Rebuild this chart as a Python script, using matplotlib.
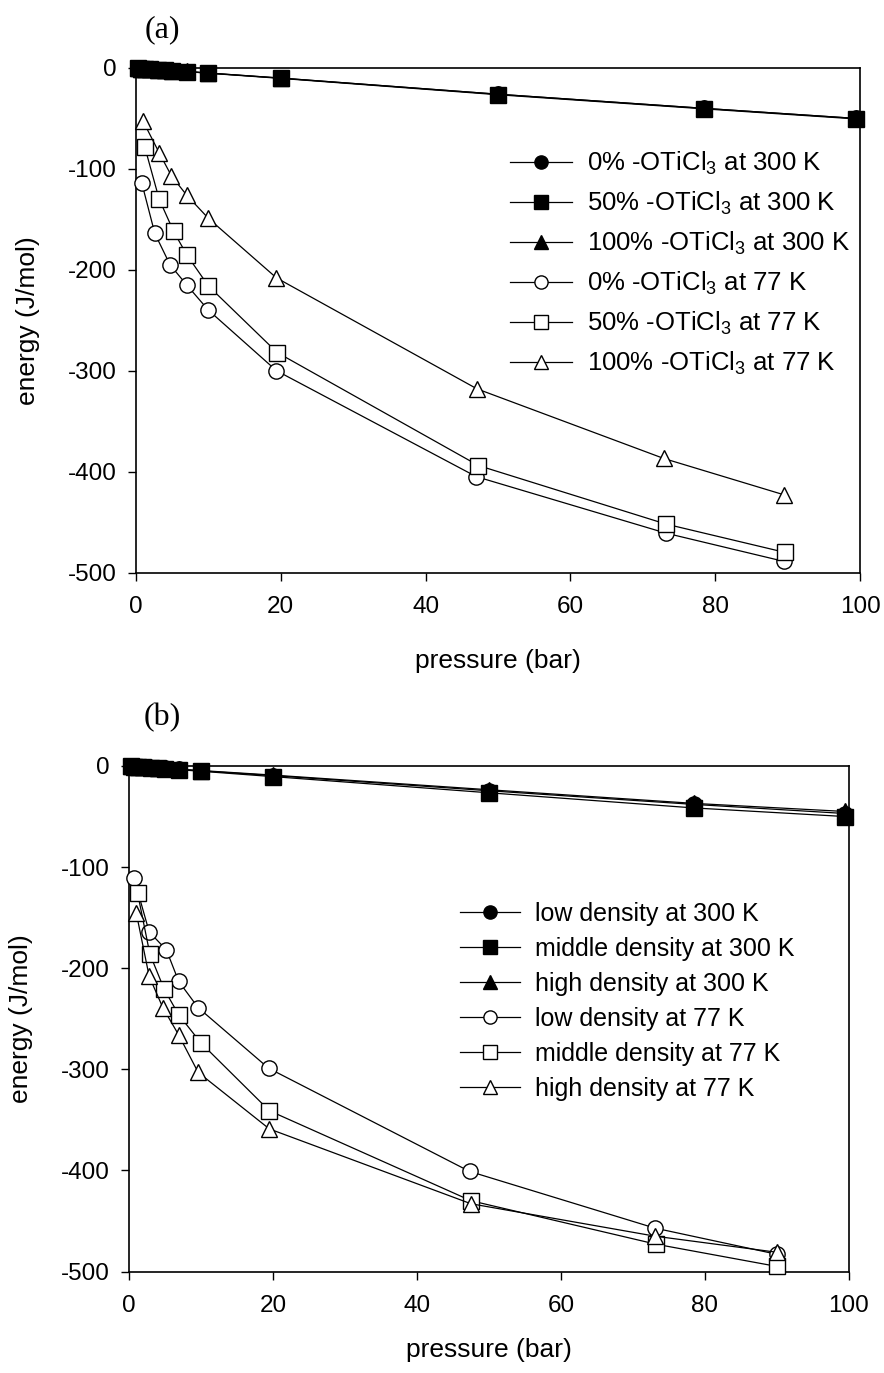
import matplotlib
matplotlib.use("Agg")
import matplotlib.pyplot as plt

plt.rcParams['font.family'] = ['Liberation Sans', 'DejaVu Sans']
plt.rcParams['mathtext.fontset'] = 'custom'
plt.rcParams['mathtext.rm'] = 'Liberation Sans'
plt.rcParams['mathtext.it'] = 'Liberation Sans'
plt.rcParams['axes.unicode_minus'] = False

# ---------------- data: panel (a) ----------------
p300_a = [0.3, 0.7, 1.2, 2.0, 3.0, 4.0, 5.0, 7.0, 10.0, 20.0, 50.0, 78.5, 99.5]
e300_a_0 = [-0.2, -0.5, -0.7, -1.2, -1.6, -2.0, -2.5, -3.5, -5.0, -10.0, -26.0, -40.0, -50.0]
e300_a_50 = [-0.2, -0.5, -0.8, -1.2, -1.7, -2.1, -2.6, -3.6, -5.2, -10.3, -26.5, -40.5, -50.5]
e300_a_100 = [-0.2, -0.5, -0.7, -1.1, -1.6, -2.0, -2.5, -3.4, -5.0, -10.0, -26.0, -40.0, -50.0]

p77_a_0 = [0.8, 2.6, 4.7, 7.0, 10.0, 19.4, 47.0, 73.2, 89.5]
e77_a_0 = [-114, -164, -195, -215, -240, -300, -405, -461, -489]
p77_a_50 = [1.2, 3.2, 5.2, 7.0, 10.0, 19.5, 47.3, 73.2, 89.6]
e77_a_50 = [-78, -130, -162, -185, -216, -282, -394, -452, -480]
p77_a_100 = [1.0, 3.2, 4.9, 7.0, 10.0, 19.4, 47.1, 72.9, 89.5]
e77_a_100 = [-53, -84, -107, -126, -149, -208, -318, -387, -423]

labels_a = [r'0% -OTiCl$_3$ at 300 K', r'50% -OTiCl$_3$ at 300 K', r'100% -OTiCl$_3$ at 300 K',
            r'0% -OTiCl$_3$ at 77 K', r'50% -OTiCl$_3$ at 77 K', r'100% -OTiCl$_3$ at 77 K']

# ---------------- data: panel (b) ----------------
p300_b = [0.3, 0.7, 1.2, 2.0, 3.0, 4.0, 5.0, 7.0, 10.0, 20.0, 50.0, 78.5, 99.5]
e300_b_low = [-0.2, -0.4, -0.7, -1.1, -1.5, -1.9, -2.4, -3.4, -4.8, -9.5, -24.5, -38.0, -47.0]
e300_b_mid = [-0.2, -0.5, -0.8, -1.2, -1.7, -2.2, -2.7, -3.7, -5.2, -10.5, -26.5, -41.5, -50.0]
e300_b_high = [-0.2, -0.4, -0.7, -1.0, -1.4, -1.8, -2.3, -3.2, -4.5, -9.0, -23.5, -37.0, -45.0]

p77_b_low = [0.7, 2.8, 5.2, 6.9, 9.6, 19.4, 47.3, 73.0, 90.0]
e77_b_low = [-111, -164, -182, -213, -239, -299, -401, -457, -483]
p77_b_mid = [1.2, 2.9, 4.9, 6.9, 10.0, 19.5, 47.5, 73.2, 90.0]
e77_b_mid = [-126, -186, -221, -246, -274, -341, -430, -473, -495]
p77_b_high = [1.0, 2.8, 4.7, 6.9, 9.6, 19.5, 47.5, 73.0, 90.0]
e77_b_high = [-145, -208, -239, -266, -303, -359, -433, -465, -481]

labels_b = ['low density at 300 K', 'middle density at 300 K', 'high density at 300 K',
            'low density at 77 K', 'middle density at 77 K', 'high density at 77 K']

markers = ['o', 's', '^', 'o', 's', '^']
fills = ['black', 'black', 'black', 'white', 'white', 'white']

xticks = [0, 20, 40, 60, 80, 100]
yticks = [0, -100, -200, -300, -400, -500]

W, H = 884, 1373
fig = plt.figure(figsize=(W / 100, H / 100), dpi=100)

ax_a = fig.add_axes([136 / W, 1 - 572.5 / H, 724 / W, 504.5 / H])
ax_b = fig.add_axes([129 / W, 1 - 1271.5 / H, 720 / W, 505.5 / H])


def draw(ax, xs_list, ys_list, labels, legend_anchor, labelspacing, legsize, xlabelpad):
    handles = []
    for xs, ys, m, fc, lab in zip(xs_list, ys_list, markers, fills, labels):
        ms = 11 if m != '^' else 11.5
        h, = ax.plot(xs, ys, color='black', lw=0.9, marker=m, ms=ms,
                     mfc=fc, mec='black', mew=1.0, label=lab, clip_on=False, zorder=3)
        handles.append(h)
    ax.set_xlim(0, 100)
    ax.set_ylim(-500, 0)
    ax.set_xticks(xticks)
    ax.set_yticks(yticks)
    ax.tick_params(direction='out', length=6, width=1.0, labelsize=17.5, pad=8,
                   top=False, right=False)
    ax.tick_params(axis='x', pad=11)
    for s in ax.spines.values():
        s.set_linewidth(1.2)
    ax.set_xlabel('pressure (bar)', fontsize=19, labelpad=xlabelpad)
    ax.set_ylabel('energy (J/mol)', fontsize=19, labelpad=20)
    leg = ax.legend(handles=handles, loc='upper left', bbox_to_anchor=legend_anchor,
                    bbox_transform=fig.transFigure, frameon=False, fontsize=legsize,
                    handlelength=2.4, handletextpad=0.6, labelspacing=labelspacing,
                    borderaxespad=0, borderpad=0)
    for h in leg.legend_handles:
        h.set_markersize(9.5)
    return leg


draw(ax_a, [p300_a, p300_a, p300_a, p77_a_0, p77_a_50, p77_a_100],
     [e300_a_0, e300_a_50, e300_a_100, e77_a_0, e77_a_50, e77_a_100],
     labels_a, (510 / W, 1 - 150 / H), 0.5, 18.5, 22)

draw(ax_b, [p300_b, p300_b, p300_b, p77_b_low, p77_b_mid, p77_b_high],
     [e300_b_low, e300_b_mid, e300_b_high, e77_b_low, e77_b_mid, e77_b_high],
     labels_b, (460 / W, 1 - 902 / H), 0.44, 18, 15)

fig.text(162 / W, 1 - 30 / H, '(a)', family='Liberation Serif', fontsize=23,
         ha='center', va='center')
fig.text(162 / W, 1 - 718 / H, '(b)', family='Liberation Serif', fontsize=23,
         ha='center', va='center')

fig.savefig('out.png', dpi=100)
